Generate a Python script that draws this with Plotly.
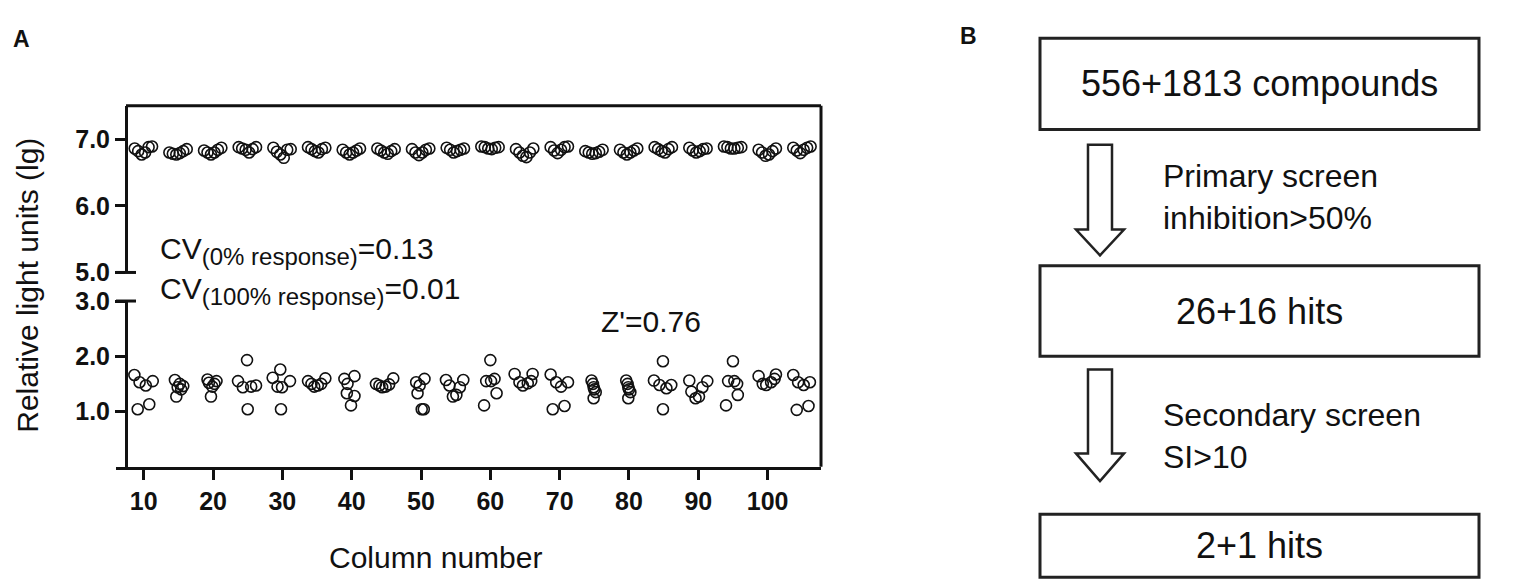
import plotly.graph_objects as go

W, H = 1535, 587
FONT = "Liberation Sans, Arial, sans-serif"

# columns for the 0% response (top) wells
top_x = [8.7, 9.2, 9.7, 10.2, 10.7, 11.2,
         13.7, 14.2, 14.7, 15.2, 15.7, 16.2,
         18.7, 19.2, 19.7, 20.2, 20.7, 21.2,
         23.7, 24.2, 24.7, 25.2, 25.7, 26.2,
         28.7, 29.2, 29.7, 30.2, 30.7, 31.2,
         33.7, 34.2, 34.7, 35.2, 35.7, 36.2,
         38.7, 39.2, 39.7, 40.2, 40.7, 41.2,
         43.7, 44.2, 44.7, 45.2, 45.7, 46.2,
         48.7, 49.2, 49.7, 50.2, 50.7, 51.2,
         53.7, 54.2, 54.7, 55.2, 55.7, 56.2,
         58.7, 59.2, 59.7, 60.2, 60.7, 61.2,
         63.7, 64.2, 64.7, 65.2, 65.7, 66.2,
         68.7, 69.2, 69.7, 70.2, 70.7, 71.2,
         73.7, 74.2, 74.7, 75.2, 75.7, 76.2,
         78.7, 79.2, 79.7, 80.2, 80.7, 81.2,
         83.7, 84.2, 84.7, 85.2, 85.7, 86.2,
         88.7, 89.2, 89.7, 90.2, 90.7, 91.2,
         93.7, 94.2, 94.7, 95.2, 95.7, 96.2,
         98.7, 99.2, 99.7, 100.2, 100.7, 101.2,
         103.7, 104.2, 104.7, 105.2, 105.7, 106.2]
top_y = [6.86, 6.82, 6.77, 6.80, 6.88, 6.89,
         6.80, 6.78, 6.77, 6.79, 6.82, 6.85,
         6.83, 6.80, 6.77, 6.80, 6.84, 6.87,
         6.88, 6.86, 6.84, 6.80, 6.85, 6.88,
         6.87, 6.81, 6.77, 6.72, 6.84, 6.85,
         6.88, 6.85, 6.82, 6.80, 6.85, 6.87,
         6.84, 6.80, 6.77, 6.80, 6.83, 6.86,
         6.86, 6.83, 6.80, 6.78, 6.82, 6.85,
         6.85, 6.80, 6.76, 6.80, 6.84, 6.86,
         6.87, 6.84, 6.80, 6.82, 6.84, 6.86,
         6.89, 6.88, 6.86, 6.85, 6.87, 6.88,
         6.85, 6.80, 6.75, 6.73, 6.80, 6.86,
         6.88, 6.83, 6.79, 6.84, 6.88, 6.89,
         6.82, 6.80, 6.78, 6.79, 6.81, 6.84,
         6.84, 6.80, 6.77, 6.80, 6.83, 6.86,
         6.88, 6.85, 6.82, 6.80, 6.85, 6.88,
         6.87, 6.83, 6.80, 6.82, 6.85, 6.86,
         6.89, 6.88, 6.86, 6.86, 6.87, 6.88,
         6.84, 6.80, 6.75, 6.77, 6.82, 6.86,
         6.87, 6.83, 6.79, 6.84, 6.87, 6.89]

# columns for the 100% response (bottom) wells
low_x = [8.65, 9.13, 9.4, 10.3, 10.8, 11.3,
         14.5, 14.7, 14.9, 15.2, 15.4, 15.7,
         19.2, 19.4, 19.7, 19.9, 20.2, 20.5,
         23.6, 24.3, 24.9, 25.0, 25.5, 26.2,
         28.6, 29.3, 29.7, 29.8, 29.95, 31.1,
         33.7, 34.2, 34.6, 35.1, 35.6, 36.2,
         38.95, 39.3, 39.4, 39.9, 40.4, 40.4,
         43.5, 44.0, 44.4, 44.9, 45.4, 46.0,
         49.3, 49.5, 49.8, 50.1, 50.4, 50.5,
         53.6, 54.1, 54.6, 55.1, 55.6, 56.1,
         59.1, 59.4, 60.0, 60.1, 60.6, 60.9,
         63.5, 64.2, 64.7, 65.4, 65.9, 66.1,
         68.7, 69.0, 69.5, 70.2, 70.7, 71.2,
         74.6, 74.8, 74.9, 75.0, 75.2, 74.9,
         79.6, 79.8, 79.9, 80.0, 80.2, 79.9,
         83.6, 84.4, 84.9, 84.9, 85.4, 86.1,
         88.7, 89.0, 89.6, 90.1, 90.6, 91.3,
         94.0, 94.3, 95.0, 95.2, 95.6, 95.7,
         98.7, 99.3, 99.8, 100.5, 101.0, 101.2,
         103.7, 104.2, 104.4, 105.2, 105.9, 106.1]
low_y = [1.66, 1.04, 1.53, 1.47, 1.13, 1.55,
         1.57, 1.27, 1.44, 1.50, 1.40, 1.46,
         1.58, 1.52, 1.27, 1.45, 1.50, 1.55,
         1.55, 1.44, 1.93, 1.04, 1.45, 1.47,
         1.61, 1.45, 1.76, 1.04, 1.44, 1.55,
         1.55, 1.50, 1.45, 1.47, 1.50, 1.60,
         1.59, 1.33, 1.50, 1.11, 1.64, 1.28,
         1.50, 1.47, 1.44, 1.45, 1.49, 1.60,
         1.53, 1.33, 1.47, 1.04, 1.04, 1.59,
         1.57, 1.47, 1.27, 1.30, 1.44, 1.57,
         1.11, 1.55, 1.93, 1.55, 1.59, 1.33,
         1.68, 1.53, 1.47, 1.51, 1.55, 1.68,
         1.67, 1.04, 1.53, 1.45, 1.10, 1.53,
         1.56, 1.50, 1.44, 1.40, 1.35, 1.24,
         1.56, 1.50, 1.44, 1.40, 1.35, 1.24,
         1.56, 1.48, 1.91, 1.04, 1.42, 1.48,
         1.56, 1.36, 1.24, 1.27, 1.44, 1.55,
         1.11, 1.55, 1.91, 1.55, 1.50, 1.30,
         1.64, 1.50, 1.48, 1.53, 1.59, 1.67,
         1.66, 1.03, 1.53, 1.48, 1.10, 1.53]

x_ticks = [10, 20, 30, 40, 50, 60, 70, 80, 90, 100]
low_ticks = [1.0, 2.0, 3.0]
top_ticks = [5.0, 6.0, 7.0]

flow_boxes = ["556+1813 compounds", "26+16 hits", "2+1 hits"]
flow_steps = ["Primary screen<br>inhibition>50%", "Secondary screen<br>SI>10"]


def px(x):
    return x / W


def py(y):
    return 1 - y / H


marker = dict(symbol="circle-open", size=11, color="#111111", line=dict(width=1.6, color="#111111"))

fig = go.Figure()
fig.add_trace(go.Scatter(x=low_x, y=low_y, mode="markers", marker=marker, xaxis="x", yaxis="y", showlegend=False))
fig.add_trace(go.Scatter(x=top_x, y=top_y, mode="markers", marker=marker, xaxis="x2", yaxis="y2", showlegend=False))

tickfont = dict(family=FONT, size=25, color="#111111", weight="bold")
xdom = [px(108), px(813)]
fig.update_layout(
    width=W, height=H,
    margin=dict(l=0, r=0, t=0, b=0),
    paper_bgcolor="white", plot_bgcolor="white",
    xaxis=dict(domain=xdom, range=[6, 107.7], anchor="y", showline=True, linewidth=3, linecolor="#111111",
               ticks="outside", ticklen=10, tickwidth=3, tickcolor="#111111", tickvals=x_ticks,
               tickfont=tickfont, showgrid=False, zeroline=False),
    xaxis2=dict(domain=xdom, range=[6, 107.7], anchor="y2", visible=False),
    yaxis=dict(domain=[py(467), py(293)], range=[0, 3], anchor="free", position=px(118),
               showline=True, linewidth=3, linecolor="#111111", ticks="outside", ticklen=10, tickwidth=3,
               tickcolor="#111111", tickvals=low_ticks, ticktext=["%.1f" % v for v in low_ticks],
               tickfont=tickfont, showgrid=False, zeroline=False),
    yaxis2=dict(domain=[py(263), py(88)], range=[5, 7.5], anchor="free", position=px(118),
                showline=True, linewidth=3, linecolor="#111111", ticks="outside", ticklen=10, tickwidth=3,
                tickcolor="#111111", tickvals=top_ticks, ticktext=["%.1f" % v for v in top_ticks],
                tickfont=tickfont, showgrid=False, zeroline=False),
)

line = dict(color="#111111", width=3)
shapes = [
    dict(type="line", xref="paper", yref="paper", x0=px(118), x1=px(813), y0=py(88), y1=py(88), line=line),
    dict(type="line", xref="paper", yref="paper", x0=px(813), x1=px(813), y0=py(88), y1=py(467), line=line),
    # axis break caps
    dict(type="line", xref="paper", yref="paper", x0=px(108), x1=px(128), y0=py(263), y1=py(263), line=line),
    dict(type="line", xref="paper", yref="paper", x0=px(108), x1=px(128), y0=py(293), y1=py(293), line=line),
]

# panel B boxes
box_rows = [(17, 113), (256, 351), (517, 583)]
for top, bot in box_rows:
    shapes.append(dict(type="rect", xref="paper", yref="paper", x0=px(1032), x1=px(1471), y0=py(bot), y1=py(top),
                       line=dict(color="#222222", width=3), fillcolor="white"))

arrow_rows = [(129, 218, 245), (365, 453, 482)]
for top, base, tip in arrow_rows:
    pts = [(1080, top), (1104, top), (1104, base), (1116, base), (1092, tip), (1068, base), (1080, base)]
    path = "M " + " L ".join("%.5f,%.5f" % (px(a), py(b)) for a, b in pts) + " Z"
    shapes.append(dict(type="path", xref="paper", yref="paper", path=path,
                       line=dict(color="#222222", width=2.5), fillcolor="white"))
fig.update_layout(shapes=shapes)

ann = []
txt = dict(family=FONT, color="#111111")


def note(x, y, text, size, **kw):
    d = dict(x=px(x), y=py(y), xref="paper", yref="paper", text=text, showarrow=False,
             font=dict(size=size, **txt), xanchor="center", yanchor="middle")
    d.update(kw)
    ann.append(d)


note(20, 277, "Relative light units (lg)", 30, textangle=-90)
note(428, 562, "Column number", 30)
note(150, 240, "CV<sub><span style='font-size:24px'>(0% response)</span></sub>=0.13", 30, xanchor="left")
note(150, 282, "CV<sub><span style='font-size:24px'>(100% response)</span></sub>=0.01", 30, xanchor="left")
note(643, 315, "Z'=0.76", 30)
note(3, 18, "<b>A</b>", 23, xanchor="left")
note(950, 15, "<b>B</b>", 23, xanchor="left")
for (top, bot), label in zip(box_rows, flow_boxes):
    note(1251, (top + bot) / 2, label, 36)
for mid, label in zip([184, 435], flow_steps):
    note(1153, mid, label, 32, xanchor="left", align="left")
fig.update_layout(annotations=ann)

fig.write_html("out.html")
